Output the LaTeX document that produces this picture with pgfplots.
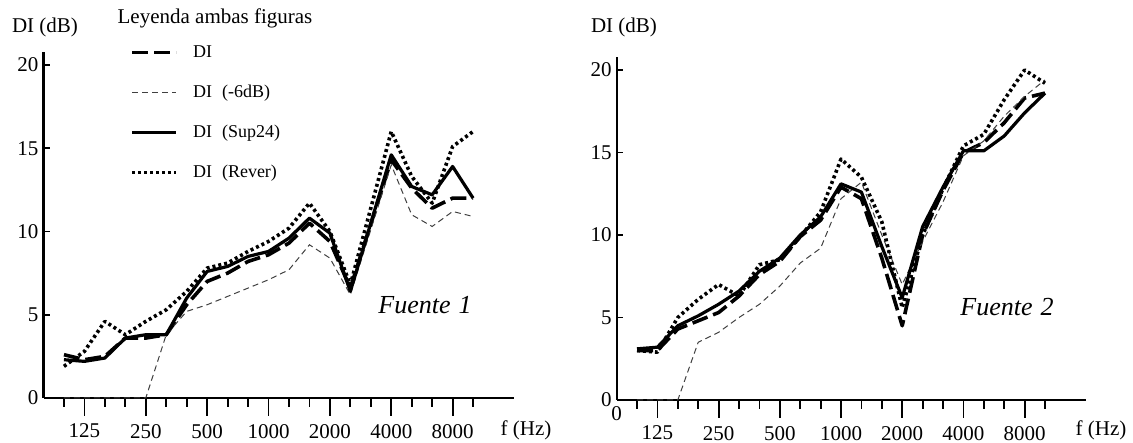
\documentclass[border=0pt]{standalone}
\usepackage{pgfplots}
\usepackage{pgfplotstable}
\usepackage{fontspec}
\setmainfont{Liberation Serif}
\pgfplotsset{compat=1.18}

% columns: 1/3-octave band index (0 = 100 Hz ... 20 = 10 kHz)
\pgfplotstableread{
i  DI    m6    sup   rev
0  2.6   0     2.3   1.9
1  2.3   0     2.2   2.8
2  2.5   0     2.4   4.6
3  3.6   0     3.6   3.8
4  3.6   0     3.8   4.6
5  3.8   3.8   3.8   5.3
6  5.6   5.2   6.0   6.4
7  7.0   5.6   7.6   7.8
8  7.5   6.1   7.9   8.1
9  8.2   6.6   8.5   8.8
10 8.6   7.1   8.8   9.4
11 9.3   7.7   9.6   10.2
12 10.5  9.2   10.8  11.7
13 9.4   8.4   9.9   10.0
14 6.6   6.2   6.4   6.8
16 14.3  14.0  14.6  16.0
17 12.6  11.0  12.7  13.3
18 11.4  10.3  12.2  11.7
19 12.0  11.2  13.9  15.1
20 12.0  10.9  12.0  16.0
}\fuenteA

\pgfplotstableread{
i  DI    m6    sup   rev
0  3.0   0     3.1   3.0
1  3.0   0     3.2   2.9
2  4.3   0     4.5   5.0
3  4.8   3.5   5.1   6.1
4  5.3   4.1   5.8   7.0
5  6.3   5.0   6.6   6.3
6  7.6   5.8   7.8   8.2
7  8.4   6.9   8.6   8.5
8  9.9   8.3   10.0  9.9
9  10.9  9.2   11.1  11.4
10 12.9  12.2  13.1  14.6
11 12.2  13.2  12.6  13.5
12 8.6   10.0  9.3   10.8
13 4.5   7.0   6.2   5.6
14 10.0  9.6   10.5  10.0
15 12.7  12.0  12.9  12.8
16 15.0  14.8  15.1  15.4
17 15.6  15.7  15.1  16.1
18 16.8  17.2  16.0  18.2
19 18.3  18.4  17.4  20.0
20 18.6  19.4  18.6  19.2
}\fuenteB

\pgfplotsset{
  panel/.style={
    scale only axis,
    xmin=-1, xmax=22, ymin=0, ymax=20.8,
    axis x line=bottom, axis y line=left,
    axis line style={-, line width=1.1pt},
    xtick={1,4,7,10,13,16,19},
    xticklabels={125,250,500,1000,2000,4000,8000},
    minor xtick={0,2,3,5,6,8,9,11,12,14,15,17,18,20},
    ytick={0,5,10,15,20},
    xtick align=outside, ytick align=inside,
    major tick length=9pt, minor tick length=4.5pt,
    tick style={line width=0.9pt, black},
    ytick style={/pgfplots/major tick length=3pt},
    ticklabel style={font=\fontsize{10.5}{12}\selectfont},
    xticklabel style={yshift=-0.5pt},
    yticklabel style={xshift=1pt},
    /pgf/number format/assume math mode=true,
    clip=false,
  },
  sDI/.style={line width=1.8pt, dash pattern=on 8pt off 3pt, line join=round},
  sm6/.style={line width=0.5pt, black!75, dash pattern=on 3pt off 2pt},
  ssup/.style={line width=1.6pt, line join=round},
  srev/.style={line width=1.8pt, dash pattern=on 1.5pt off 1.5pt, line join=round},
}

\begin{document}
\begin{tikzpicture}
\useasboundingbox (0,0) rectangle (566.5pt,221.5pt);

\begin{axis}[panel,
  at={(21.75pt,22.5pt)}, anchor=south west,
  width=235.25pt, height=173.2pt,
  legend style={at={(axis cs:3.23,21.3)}, anchor=north west, draw=none,
    fill=none, inner sep=0pt, row sep=11pt, column sep=7.5pt,
    font=\fontsize{9}{10}\selectfont,
    nodes={inner sep=0pt, text height=7pt, text depth=2pt}},
  legend cell align=left,
  legend image code/.code={\draw[#1] (0pt,0pt) -- (22pt,0pt);},
]
\addplot[sDI] table[x=i, y=DI] {\fuenteA};
\addlegendentry{DI}
\addplot[sm6] table[x=i, y=m6] {\fuenteA};
\addlegendentry{DI\hspace{5pt}(-6dB)}
\addplot[ssup] table[x=i, y=sup] {\fuenteA};
\addlegendentry{DI\hspace{5pt}(Sup24)}
\addplot[srev] table[x=i, y=rev] {\fuenteA};
\addlegendentry{DI\hspace{5pt}(Rever)}
\end{axis}

\begin{axis}[panel,
  at={(308.3pt,21.5pt)}, anchor=south west,
  width=234.6pt, height=171.6pt,
]
\addplot[sDI] table[x=i, y=DI] {\fuenteB};
\addplot[sm6] table[x=i, y=m6] {\fuenteB};
\addplot[ssup] table[x=i, y=sup] {\fuenteB};
\addplot[srev] table[x=i, y=rev] {\fuenteB};
\node[anchor=north, inner sep=0pt, font=\fontsize{10.5}{12}\selectfont]
  at (axis cs:-1,0) [yshift=-3pt] {0};
\end{axis}

\node[font=\fontsize{10.5}{12}\selectfont] at (22.5pt,208pt) {DI (dB)};
\node[font=\fontsize{10.5}{12}\selectfont] at (312pt,208pt) {DI (dB)};
\node[font=\fontsize{10.5}{12}\selectfont] at (107.5pt,212.5pt) {Leyenda ambas figuras};
\node[font=\fontsize{13}{15}\selectfont\itshape] at (212.5pt,69pt) {Fuente\hspace{4pt}1};
\node[font=\fontsize{13}{15}\selectfont\itshape] at (503.5pt,68pt) {Fuente\hspace{4pt}2};
\node[font=\fontsize{10.5}{12}\selectfont] at (263pt,6.5pt) {f (Hz)};
\node[font=\fontsize{10.5}{12}\selectfont] at (550.5pt,6.5pt) {f (Hz)};
\end{tikzpicture}
\end{document}
